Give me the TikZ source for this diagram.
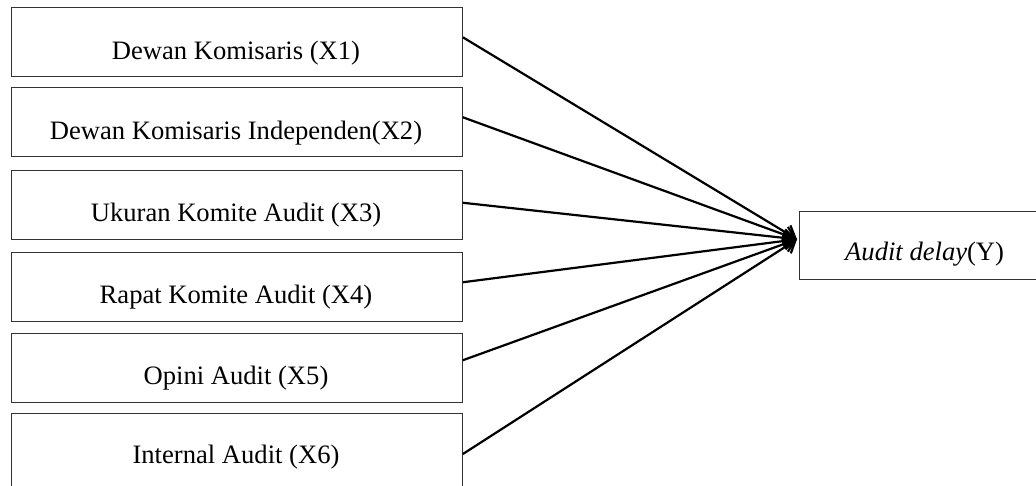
\documentclass[tikz,border=0pt]{standalone}
\usepackage{fontspec}
\setmainfont{Liberation Serif}
\usetikzlibrary{arrows.meta}
\begin{document}
\begin{tikzpicture}[x=1pt,y=-1pt,
  vbox/.style={draw=black!80,line width=1.1pt,minimum width=451pt,minimum height=69pt,inner sep=0pt,anchor=north west},
  vtext/.style={font=\fontsize{26.6}{32}\selectfont,anchor=base},
  conn/.style={line width=2.2pt,-{Straight Barb[length=11pt,width=17pt,line width=2.2pt]}}]
\useasboundingbox (0,0) rectangle (1036,485);
\clip (0,0) rectangle (1036,485);
\node[vbox] (b1) at (10.7,7) {};
\node[vbox] (b2) at (10.7,87) {};
\node[vbox] (b3) at (10.7,170) {};
\node[vbox] (b4) at (10.7,251.7) {};
\node[vbox] (b5) at (10.7,332.7) {};
\node[vbox,minimum height=90pt] (b6) at (10.7,413.3) {};
\node[vtext] (t1) at (236,59.3) {Dewan Komisaris (X1)};
\node[vtext] (t2) at (236,139.5) {Dewan Komisaris Independen(X2)};
\node[vtext] (t3) at (236,221.5) {Ukuran Komite Audit (X3)};
\node[vtext] (t4) at (236,303) {Rapat Komite Audit (X4)};
\node[vtext] (t5) at (236,384.5) {Opini Audit (X5)};
\node[vtext] (t6) at (236,463.3) {Internal Audit (X6)};
\node[draw=black!80,line width=1.1pt,minimum width=260pt,minimum height=68.6pt,inner sep=0pt,anchor=north west] (y) at (799.3,210.7) {};
\node[vtext,anchor=base west] (ty) at (841.7,260) {\textit{Audit delay}(Y)};
\coordinate (tip) at (797,239.3);
\draw[conn] ([yshift=4.8pt]b1.east) -- (tip);
\draw[conn] ([yshift=4.8pt]b2.east) -- (tip);
\draw[conn] ([yshift=2.3pt]b3.east) -- (tip);
\draw[conn] ([yshift=4.5pt]b4.east) -- (tip);
\draw[conn] ([yshift=7.5pt]b5.east) -- (tip);
\draw[conn] ([yshift=4.8pt]b6.east) -- (tip);
\end{tikzpicture}
\end{document}
